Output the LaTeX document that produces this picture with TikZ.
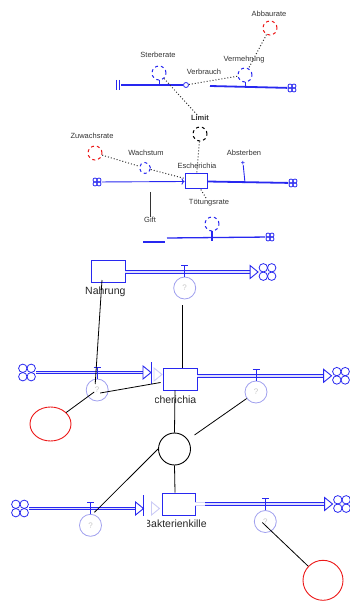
\documentclass[tikz,border=0pt]{standalone}
\usepackage{fontspec}
\setmainfont{Liberation Sans}
\usetikzlibrary{shapes,arrows,arrows.meta,positioning,calc}

\definecolor{flowblue}{RGB}{40,40,240}
\definecolor{paleblue}{RGB}{160,160,238}
\definecolor{auxred}{RGB}{236,24,24}

% open arrow head of a pipe, #2 = tip
\newcommand{\pipehead}[2][flowblue]{%
  \draw[#1, line width=0.9pt, fill=white] ($(#2)+(-8,-6.5)$) -- (#2) -- ($(#2)+(-8,6.5)$) -- cycle;}
% T mark on top of a valve, #1 = valve, #2 = stem length
\newcommand{\valvemark}[2]{%
  \draw[flowblue, line width=0.9pt] (#1.north) -- ++(0,-#2) ++(-3.5,0) -- ++(7,0);}

\begin{document}
\begin{tikzpicture}[x=1pt, y=-1pt,
    stock/.style={draw=flowblue, line width=0.9pt, fill=white, minimum width=34pt, minimum height=22pt, inner sep=0pt},
    valve/.style={circle, draw=paleblue, line width=0.8pt, minimum size=22pt, inner sep=0pt, text=black!22, font=\fontsize{8}{8}\selectfont},
    pipe/.style={draw=flowblue, line width=1pt, double=flowblue!15, double distance=1.6pt},
    link/.style={draw=black, line width=0.8pt},
    cloud/.style={minimum size=4.4*#1, inner sep=0pt, path picture={
        \foreach \dx/\dy in {-1/-1,1/-1,-1/1,1/1}
          {\draw[flowblue, line width=0.8pt] ($(path picture bounding box.center)+(\dx*#1,\dy*#1)$) circle (#1);}}},
    stocklabel/.style={inner sep=0pt, text=black!85, font=\fontsize{10.5}{12}\selectfont},
    mpipe/.style={draw=flowblue, line width=1.8pt},
    mthin/.style={draw=flowblue, line width=0.9pt},
    mlink/.style={draw=black!80, dotted, line width=1pt},
    mcirc/.style={circle, dashed, line width=1pt, minimum size=14pt, inner sep=0pt},
    mlbl/.style={inner sep=0pt, text=black!80, font=\fontsize{7.5}{8}\selectfont},
  ]
  \useasboundingbox (0,0) rectangle (349,601);

  %% overview of the whole model
  \node[mcirc, draw=auxred] (oAbbau) at (270,28) {};
  \node[mlbl] (tAbbau) at (269,14) {Abbaurate};
  \node[mcirc, draw=flowblue] (oVermehr) at (245,75) {};
  \node[mlbl] (tVermehr) at (244,60) {Vermehrung};
  \draw[mlink] (oAbbau) -- (oVermehr);
  \node[cloud=2] (oCloudA) at (292,88) {};
  \coordinate (oPipeA) at (210,86);
  \draw[mpipe] (oPipeA) -- (oCloudA);
  \draw[mthin] (oVermehr) -- (245,86);

  \node[mcirc, draw=flowblue] (oSchwund) at (159,73) {};
  \node[mlbl] (tSchwund) at (158,55) {Sterberate};
  \node[mlbl] (tVerbr) at (204,72) {Verbrauch};
  \coordinate (oPipeB) at (121,85);
  \node[circle, draw=flowblue, line width=0.8pt, minimum size=5pt, inner sep=0pt] (oEndB) at (186,85) {};
  \draw[mpipe] (oPipeB) -- (oEndB);
  \draw[mthin] (116,80) -- (116,90) (119,80) -- (119,90);
  \draw[mthin] (oSchwund) -- (159,85);
  \draw[mlink] (oEndB) -- (oVermehr);

  \node[mcirc, draw=black] (oKap) at (200,134) {};
  \node[mlbl, font=\bfseries\fontsize{7.5}{8}\selectfont] (tKap) at (200,118) {Limit};
  \draw[mlink] (oSchwund) -- (tKap);

  \node[mcirc, draw=auxred] (oZuw) at (95,153) {};
  \node[mlbl] (tZuw) at (92,136) {Zuwachsrate};
  \node[mcirc, draw=flowblue, minimum size=11pt] (oWachs) at (145,168) {};
  \node[mlbl] (tWachs) at (146,153) {Wachstum};
  \draw[mlink] (oZuw) -- (oWachs);
  \node[draw=flowblue, line width=1pt, minimum width=22pt, minimum height=15pt, inner sep=0pt] (oStockE) at (196,181.5) {};
  \node[mlbl] (tStockE) at (197,166) {Escherichia};
  \draw[mlink] (oWachs) -- (oStockE);
  \draw[mlink] (oKap) -- (oStockE);
  \node[cloud=2] (oCloudL) at (97,182) {};
  \draw[mthin, -{To[length=3pt]}] (oCloudL) -- (oStockE.west);
  \node[cloud=2] (oCloudR) at (293,183) {};
  \draw[mpipe] (oStockE.east) -- (oCloudR);
  \node[mlbl] (tAbst) at (244,153) {Absterben};
  \node[inner sep=0pt, text=flowblue, font=\bfseries\fontsize{7}{7}\selectfont] (oPlus) at (243,163) {+};
  \draw[mthin] (oPlus) -- (245,183);

  \node[mlbl] (tToet) at (209,203) {Tötungsrate};
  \draw[mlink] (oStockE) -- (tToet);
  \node[mcirc, draw=flowblue] (oToet) at (212,224) {};
  \coordinate (oPipeC) at (167,238);
  \node[cloud=2] (oCloudC) at (270,237) {};
  \draw[mthin, line width=1.3pt] (oPipeC) -- (oCloudC);
  \draw[mthin, line width=1.6pt] (oToet) -- (212,241);
  \coordinate (oStubA) at (143,242);
  \coordinate (oStubB) at (165,242);
  \draw[mpipe] (oStubA) -- (oStubB);
  \node[mlbl] (tGift) at (150,220) {Gift};
  \coordinate (oValveW) at (150,192);
  \draw[black!80, line width=1pt] (oValveW) -- (tGift.north);

  %% stocks
  \node[stock] (nahrung) at (108,271.5) {};
  \node[stock] (escherichia) at (180,379) {};
  \node[stock, minimum width=33pt] (killer) at (178.5,504) {};

  \begin{scope}
    \clip (80,284) rectangle (126,302);
    \node[stocklabel, anchor=west] (lNahrung) at (85,292) {Nahrung};
  \end{scope}
  \begin{scope}
    \clip (155,392) rectangle (210,410);
    \node[stocklabel, anchor=east] (lEscherichia) at (196.5,400) {Escherichia};
  \end{scope}
  \begin{scope}
    \clip (147.5,516) rectangle (206,534);
    \node[stocklabel, anchor=west] (lKiller) at (144,524) {Bakterienkiller};
  \end{scope}

  %% clouds
  \node[cloud=4.2] (cloudA) at (267.5,272) {};
  \node[cloud=4.2] (cloudL) at (27,372.5) {};
  \node[cloud=4.2] (cloudR) at (341,375.8) {};
  \node[cloud=4.2] (cloudBL) at (20,508.5) {};
  \node[cloud=4.2] (cloudBR) at (342,504) {};

  %% pipe ends
  \coordinate (inE) at (151,372.5);
  \coordinate (outE) at (197,375.8);
  \coordinate (inK) at (143.5,508.5);
  \coordinate (outK) at (205,504);

  %% pipes
  \draw[pipe] (nahrung.east |- cloudA) -- ($(cloudA.west)+(-8,0)$);
  \pipehead{cloudA.west}
  \draw[pipe] (cloudL.east) -- ($(inE)+(-8,0)$);
  \pipehead{inE}
  \draw[flowblue, line width=0.9pt] ($(inE)+(0,-10.5)$) -- ($(inE)+(0,11.5)$);
  \pipehead[paleblue!55]{$(inE)+(11,2)$}
  \draw[pipe] (outE) -- ($(cloudR.west)+(-8,0)$);
  \pipehead{cloudR.west}
  \draw[pipe] (cloudBL.east) -- ($(inK)+(-8,0)$);
  \pipehead{inK}
  \draw[flowblue, line width=0.9pt] ($(inK)+(0,-13.5)$) -- ($(inK)+(0,7)$);
  \pipehead[paleblue!55]{$(inK)+(16,0)$}
  \draw[pipe, draw=paleblue!45, double=white] (killer.east) -- (outK);
  \draw[pipe] (outK) -- ($(cloudBR.west)+(-8,0)$);
  \pipehead{cloudBR.west}

  %% valves
  \node[valve] (vTop) at (184.7,288) {?};
  \node[valve] (vInL) at (97.2,390) {?};
  \node[valve] (vOutM) at (256,392) {?};
  \node[valve] (vInB) at (90.5,525.3) {?};
  \node[valve] (vOutB) at (265.3,521.5) {?};
  \valvemark{vTop}{11}
  \valvemark{vInL}{11.5}
  \valvemark{vOutM}{11}
  \valvemark{vInB}{11}
  \valvemark{vOutB}{12}

  %% converter and auxiliaries
  \node[circle, draw=black, line width=0.9pt, minimum size=32pt, inner sep=0pt] (conv) at (174.5,449) {};
  \node[ellipse, draw=auxred, line width=0.9pt, minimum width=41pt, minimum height=34pt, inner sep=0pt] (auxL) at (50.5,424) {};
  \node[circle, draw=auxred, line width=0.9pt, minimum size=40pt, inner sep=0pt] (auxR) at (323,580.3) {};

  %% links
  \draw[link] ([xshift=-6pt,yshift=-8.5pt]nahrung.center) -- ([xshift=-2pt,yshift=6pt]vInL.center);
  \draw[link] ([xshift=-2pt,yshift=-6pt]vTop.south) -- ([xshift=2.7pt]escherichia.north);
  \draw[link] ([xshift=3pt,yshift=-3pt]vInL.center) -- ([xshift=-2pt,yshift=-3.5pt]escherichia.west);
  \draw[link] (auxL) -- ([xshift=-3pt,yshift=-2pt]vInL.center);
  \draw[link] ([xshift=-5pt]escherichia.south) -- (conv.north);
  \draw[link, shorten >=8pt] (vOutM) -- (conv);
  \draw[link] (conv.west) -- ([xshift=4pt,yshift=13pt]vInB.center);
  \draw[link] (conv.south) -- ([xshift=-3.5pt]killer.north);
  \draw[link] ([xshift=-3pt,yshift=-1pt]vOutB.center) -- (auxR);
\end{tikzpicture}
\end{document}
